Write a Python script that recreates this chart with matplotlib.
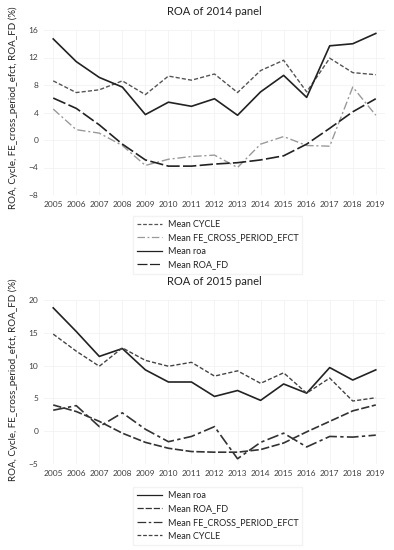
import numpy as np
import matplotlib
matplotlib.use("Agg")
import matplotlib.pyplot as plt

plt.rcParams['font.family'] = ['Lato', 'DejaVu Sans']

years = [str(y) for y in range(2005, 2020)]

# --- ROA of 2014 panel ---
roa_14 = [14.7, 11.4, 9.1, 7.7, 3.7, 5.5, 4.9, 6.0, 3.6, 7.0, 9.4, 6.2, 13.7, 14.0, 15.5]
cycle_14 = [8.6, 6.9, 7.3, 8.6, 6.6, 9.3, 8.7, 9.6, 6.9, 10.1, 11.6, 7.0, 11.9, 9.8, 9.5]
fe_14 = [4.5, 1.5, 1.0, -0.8, -3.7, -2.8, -2.4, -2.2, -4.0, -0.6, 0.5, -0.8, -0.9, 7.7, 3.6]
roa_fd_14 = [6.1, 4.6, 2.2, -0.6, -2.9, -3.8, -3.8, -3.5, -3.3, -2.9, -2.3, -0.6, 1.7, 4.1, 6.0]

# --- ROA of 2015 panel ---
roa_15 = [18.8, 15.2, 11.4, 12.6, 9.35, 7.5, 7.5, 5.3, 6.2, 4.7, 7.2, 5.8, 9.7, 7.8, 9.35]
roa_fd_15 = [4.0, 3.0, 1.5, -0.3, -1.7, -2.6, -3.1, -3.2, -3.2, -2.8, -1.8, -0.1, 1.5, 3.1, 4.0]
fe_15 = [3.2, 3.9, 0.7, 2.8, 0.3, -1.6, -0.8, 0.7, -4.2, -1.7, -0.3, -2.4, -0.8, -0.9, -0.6]
cycle_15 = [14.8, 12.2, 9.9, 12.7, 10.8, 9.9, 10.5, 8.4, 9.2, 7.3, 8.9, 5.8, 8.1, 4.6, 5.1]

W, H = 394, 550
fig = plt.figure(figsize=(W / 100, H / 100), dpi=100)


def px_axes(left, top, right, bottom):
    return fig.add_axes([left / W, 1 - bottom / H, (right - left) / W, (bottom - top) / H])


def style_axis(ax, ylim, yticks, title):
    x = np.arange(len(years))
    ax.set_xlim(-0.4, len(years) - 0.6)
    ax.set_ylim(*ylim)
    ax.set_xticks(x)
    ax.set_xticklabels(years)
    ax.set_yticks(yticks)
    ax.tick_params(length=0, labelsize=6, colors='#404040', pad=4)
    for s in ax.spines.values():
        s.set_visible(False)
    ax.grid(True, color='#f2f2f2', linewidth=0.6)
    ax.set_axisbelow(True)
    ax.set_title(title, fontsize=8, color='#222222', pad=11)


x = np.arange(len(years))

# top panel
ax1 = px_axes(44, 30, 385, 195)
ax1.plot(x, cycle_14, color='#555555', lw=1.0, ls=(0, (3, 1.5)), label='Mean CYCLE')
ax1.plot(x, fe_14, color='#9a9a9a', lw=1.0, ls=(0, (6, 2, 1.5, 2)), label='Mean FE_CROSS_PERIOD_EFCT')
ax1.plot(x, roa_14, color='#222222', lw=1.2, ls='-', label='Mean roa')
ax1.plot(x, roa_fd_14, color='#222222', lw=1.2, ls=(0, (8, 2)), label='Mean ROA_FD')
style_axis(ax1, (-8, 16), [-8, -4, 0, 4, 8, 12, 16], 'ROA of 2014 panel')

# bottom panel
ax2 = px_axes(44, 300, 385, 464)
ax2.plot(x, roa_15, color='#222222', lw=1.2, ls='-', label='Mean roa')
ax2.plot(x, roa_fd_15, color='#333333', lw=1.2, ls=(0, (5, 1.5)), label='Mean ROA_FD')
ax2.plot(x, fe_15, color='#333333', lw=1.2, ls=(0, (7, 2, 2, 2)), label='Mean FE_CROSS_PERIOD_EFCT')
ax2.plot(x, cycle_15, color='#444444', lw=1.0, ls=(0, (3, 1.5)), label='Mean CYCLE')
style_axis(ax2, (-5, 20), [-5, 0, 5, 10, 15, 20], 'ROA of 2015 panel')

ylab = 'ROA, Cycle, FE_cross_period_efct, ROA_FD (%)'
fig.text(13 / W, 1 - 108 / H, ylab, rotation=90, ha='center', va='center', fontsize=7, color='#222222')
fig.text(13 / W, 1 - 380 / H, ylab, rotation=90, ha='center', va='center', fontsize=7, color='#222222')

for ax, top in ((ax1, 216), (ax2, 487)):
    h, l = ax.get_legend_handles_labels()
    leg = fig.legend(h, l, loc='upper left', bbox_to_anchor=(133 / W, 1 - top / H),
                     fontsize=6.5, frameon=True, fancybox=False, edgecolor='#f0f0f0',
                     handlelength=2.8, handletextpad=0.6, labelspacing=0.5,
                     borderpad=0.45, borderaxespad=0)
    for t in leg.get_texts():
        t.set_color('#222222')
    for ln in leg.get_lines():
        ln.set_linewidth(0.9)

fig.savefig('out.png', dpi=100)
